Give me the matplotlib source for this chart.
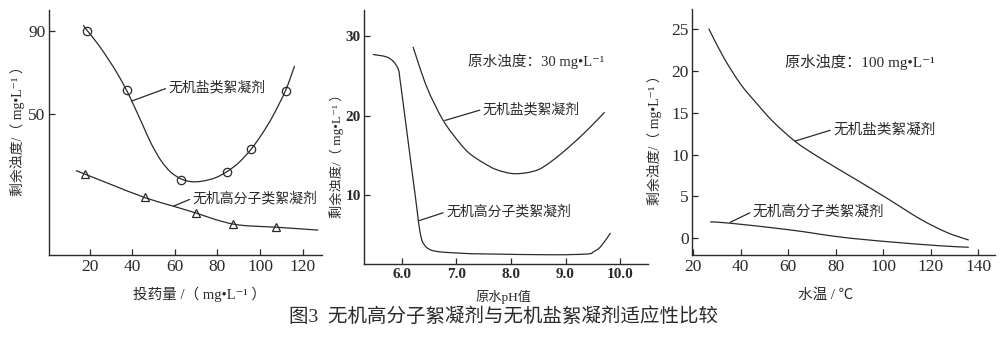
import matplotlib
matplotlib.use("Agg")
import matplotlib.pyplot as plt
from matplotlib.path import Path
from matplotlib.patches import PathPatch

FAM = ['Liberation Serif', 'Noto Sans CJK SC', 'DejaVu Sans']
CJK = ['Noto Sans CJK SC', 'DejaVu Sans']
plt.rcParams['font.family'] = FAM
plt.rcParams['axes.unicode_minus'] = False

INK = '#2a2a2a'

# ---------- Panel 1: dosage ----------
dose_salt_curve_x = [17.2, 19, 24, 29, 33, 37.4, 41, 45, 49, 53.5, 58, 63, 68, 73, 79, 84.5, 90, 95.8, 101, 106, 111.9, 116.1]
dose_salt_curve_y = [92.5, 90, 83.5, 76, 69.5, 61.3, 53.5, 44.5, 35.5, 27.5, 22, 18.6, 17.3, 17.6, 19.2, 22.2, 26.5, 33.0, 40.5, 49, 61.2, 72.9]
dose_salt_pts_x = [19, 37.4, 63, 84.5, 95.8, 111.9]
dose_salt_pts_y = [90, 61.3, 18.3, 22.2, 33.0, 61.2]
dose_poly_curve_x = [13.8, 18, 30, 45.8, 58, 70, 79, 87.3, 95, 107.2, 127]
dose_poly_curve_y = [22.6, 20.9, 16.0, 9.7, 5.9, 2.2, -0.9, -3.1, -4.0, -4.6, -6.0]
dose_poly_pts_x = [18, 45.8, 70, 87.3, 107.2]
dose_poly_pts_y = [20.9, 9.7, 2.2, -3.1, -4.6]
dose_xticks = [20, 40, 60, 80, 100, 120]
dose_yticks = [50, 90]

# ---------- Panel 2: pH ----------
ph_poly_x = [5.48, 5.72, 5.85, 5.94, 5.97, 6.03, 6.15, 6.27, 6.33, 6.40, 6.58, 7.07, 7.56, 8.78, 9.40, 9.51, 9.64, 9.82]
ph_poly_y = [27.7, 27.4, 26.8, 25.8, 24.5, 21.4, 15.05, 8.75, 5.6, 3.9, 3.0, 2.7, 2.6, 2.5, 2.6, 2.87, 3.5, 5.2]
ph_salt_x = [6.21, 6.46, 6.76, 7.07, 7.25, 7.50, 7.74, 8.07, 8.46, 8.75, 9.07, 9.40, 9.71]
ph_salt_y = [28.6, 23.6, 19.4, 16.5, 15.2, 14.05, 13.2, 12.7, 13.1, 14.3, 16.1, 18.2, 20.4]
ph_xticks = [6.0, 7.0, 8.0, 9.0, 10.0]
ph_yticks = [10, 20, 30]

# ---------- Panel 3: temperature ----------
t_salt_x = [26.6, 32.6, 39.7, 46.7, 53.7, 63.2, 73.3, 87.4, 101.4, 115.5, 126.7, 135.8]
t_salt_y = [25.0, 21.7, 18.5, 16.1, 13.9, 11.5, 9.6, 7.2, 4.8, 2.3, 0.7, -0.2]
t_poly_x = [27.3, 35.5, 60.7, 81.8, 101.4, 123.9, 135.8]
t_poly_y = [1.95, 1.8, 1.0, 0.15, -0.4, -0.9, -1.07]
t_xticks = [20, 40, 60, 80, 100, 120, 140]
t_yticks = [0, 5, 10, 15, 20, 25]

salt_label = '无机盐类絮凝剂'
poly_label = '无机高分子类絮凝剂'
ylab = '剩余浊度/（ mg•L⁻¹ ）'
caption = '图3  无机高分子絮凝剂与无机盐絮凝剂适应性比较'

W, H = 1002, 337
fig = plt.figure(figsize=(W / 100, H / 100), dpi=100)


def px_axes(l, t, r, b):
    return fig.add_axes([l / W, 1 - b / H, (r - l) / W, (b - t) / H])


def smooth_line(ax, xs, ys, lw=0.9):
    """Draw a smooth curve through the given points (Catmull-Rom as Bezier)."""
    pts = list(zip(xs, ys))
    n = len(pts)
    verts = [pts[0]]
    codes = [Path.MOVETO]
    for i in range(n - 1):
        p0 = pts[i - 1] if i > 0 else pts[i]
        p1 = pts[i]
        p2 = pts[i + 1]
        p3 = pts[i + 2] if i + 2 < n else pts[i + 1]
        c1 = (p1[0] + (p2[0] - p0[0]) / 6, p1[1] + (p2[1] - p0[1]) / 6)
        c2 = (p2[0] - (p3[0] - p1[0]) / 6, p2[1] - (p3[1] - p1[1]) / 6)
        verts += [c1, c2, p2]
        codes += [Path.CURVE4] * 3
    patch = PathPatch(Path(verts, codes), facecolor='none', edgecolor=INK,
                      lw=lw, transform=ax.transData, capstyle='round')
    ax.add_patch(patch)


def style(ax, fs, weight='normal'):
    for s in ['top', 'right']:
        ax.spines[s].set_visible(False)
    for s in ['left', 'bottom']:
        ax.spines[s].set_color(INK)
        ax.spines[s].set_linewidth(1.0)
    ax.tick_params(direction='in', length=4, width=0.9, colors=INK,
                   labelsize=fs, pad=3)
    ax.tick_params(axis='y', pad=2.5)
    for lab in ax.get_xticklabels() + ax.get_yticklabels():
        lab.set_family(FAM)
        lab.set_fontweight(weight)
        lab.set_color(INK)


def leader(ax, text, xy, xytext, fs):
    ax.annotate(text, xy=xy, xytext=xytext, textcoords='data',
                fontsize=fs, family=CJK, color=INK, va='center', ha='left',
                arrowprops=dict(arrowstyle='-', color=INK, lw=0.9,
                                shrinkA=0, shrinkB=0, relpos=(0, 0.5)))


# Panel 1
ax1 = px_axes(49, 10, 322, 255)
smooth_line(ax1, dose_salt_curve_x, dose_salt_curve_y)
ax1.plot(dose_salt_pts_x, dose_salt_pts_y, 'o', mfc='none', mec=INK, ms=6, mew=0.9)
smooth_line(ax1, dose_poly_curve_x, dose_poly_curve_y)
ax1.plot(dose_poly_pts_x, dose_poly_pts_y, '^', mfc='none', mec=INK, ms=6, mew=0.9)
ax1.set_xlim(1, 129)
ax1.set_ylim(-18, 100)
ax1.set_xticks(dose_xticks)
ax1.set_yticks(dose_yticks)
style(ax1, 12.5)
leader(ax1, salt_label, (39.6, 56.1), (56.9, 62.6), 10)
leader(ax1, poly_label, (59.3, 5.5), (68.2, 9.3), 10)
ax1.set_ylabel(ylab, family=FAM, fontsize=10, color=INK)
ax1.set_xlabel('投药量 /（ mg•L⁻¹ ）', family=FAM, fontsize=10.5, color=INK)
ax1.xaxis.set_label_coords(0.55, -0.13)
ax1.yaxis.set_label_coords(-0.088, 0.52)

# Panel 2
ax2 = px_axes(364.3, 10, 648, 264.3)
smooth_line(ax2, ph_poly_x, ph_poly_y)
smooth_line(ax2, ph_salt_x, ph_salt_y)
ax2.set_xlim(5.315, 10.51)
ax2.set_ylim(1.3, 33.3)
ax2.set_xticks(ph_xticks)
ax2.set_xticklabels([f'{v:.1f}' for v in ph_xticks])
ax2.set_yticks(ph_yticks)
style(ax2, 11, 'bold')
ax2.text(7.21, 26.8, '原水浊度：30 mg•L⁻¹', family=FAM, fontsize=10.5, color=INK,
         va='center', ha='left')
leader(ax2, salt_label, (6.79, 19.4), (7.48, 20.8), 10)
leader(ax2, poly_label, (6.32, 6.8), (6.81, 7.9), 10)
ax2.set_ylabel(ylab, family=FAM, fontsize=9.5, color=INK)
ax2.set_xlabel('原水pH值', family=FAM, fontsize=9.5, color=INK)
ax2.xaxis.set_label_coords(0.49, -0.10)
ax2.yaxis.set_label_coords(-0.072, 0.44)

# Panel 3
ax3 = px_axes(692.3, 9.3, 995, 255)
smooth_line(ax3, t_salt_x, t_salt_y)
smooth_line(ax3, t_poly_x, t_poly_y)
ax3.set_xlim(19.6, 147)
ax3.set_ylim(-2.0, 27.35)
ax3.set_xticks(t_xticks)
ax3.set_yticks(t_yticks)
style(ax3, 12.5)
ax3.text(58.6, 21.1, '原水浊度：100 mg•L⁻¹', family=FAM, fontsize=11, color=INK,
         va='center', ha='left')
leader(ax3, salt_label, (62.8, 11.6), (78.8, 13.0), 10.5)
leader(ax3, poly_label, (35.5, 1.9), (45.0, 3.2), 10.5)
ax3.set_ylabel(ylab, family=FAM, fontsize=10, color=INK)
ax3.set_xlabel('水温 / ℃', family=FAM, fontsize=10.5, color=INK)
ax3.xaxis.set_label_coords(0.44, -0.135)
ax3.yaxis.set_label_coords(-0.1, 0.48)

fig.text(0.502, 0.06, caption, family=FAM, fontsize=14, color=INK,
         ha='center', va='center')

fig.savefig('out.png', dpi=100, facecolor='white')
